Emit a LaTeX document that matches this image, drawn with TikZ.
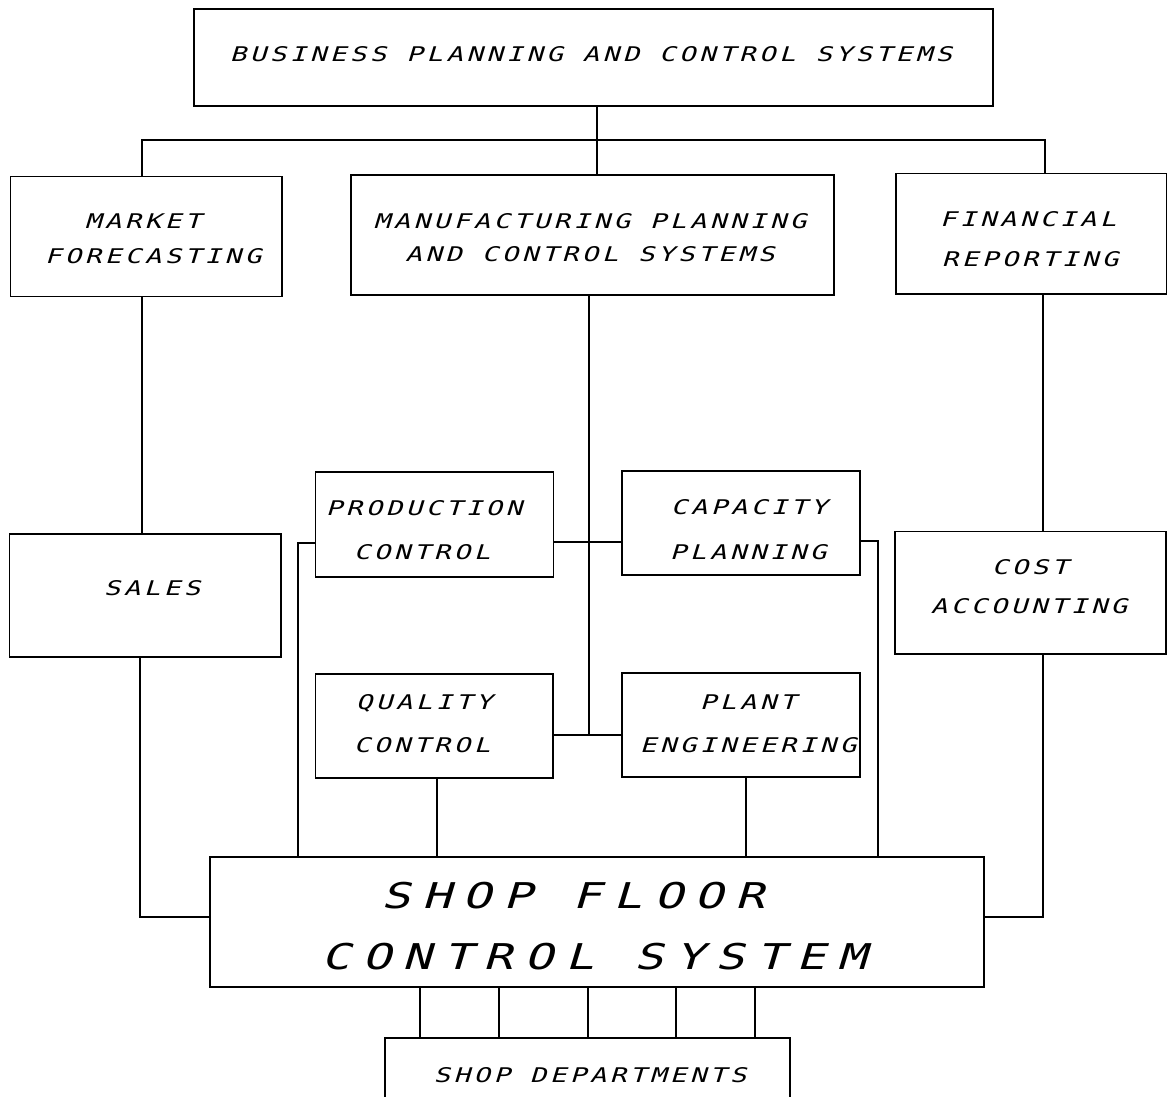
\documentclass[tikz,border=0pt]{standalone}
\usepackage{fontspec}
\usetikzlibrary{fit}
% plotter-style lettering: wide, slanted, evenly spaced capitals
\newfontfamily\plotsmall[FakeStretch=1.35,FakeSlant=0.3,LetterSpace=17.7]{DejaVu Sans Mono}
\newfontfamily\plotlarge[FakeStretch=1.35,FakeSlant=0.3,LetterSpace=33]{DejaVu Sans Mono}
\begin{document}
\begin{tikzpicture}[x=0.02cm,y=-0.02cm,line width=0.8pt,
  box/.style={draw,inner sep=0pt,fit={#1}},
  lbl/.style={anchor=base,inner sep=0pt,font=\plotsmall\fontsize{11.5}{13}\selectfont},
  biglbl/.style={anchor=base,inner sep=0pt,font=\plotlarge\fontsize{20.2}{24}\selectfont}]
\useasboundingbox (0,0) rectangle (1171,1097);
\clip (0,0) rectangle (1171,1097);

% boxes
\node[box={(194,9)(993,106)}] (bus) {};
\node[box={(10.5,176.5)(282,296.5)}] (mf) {};
\node[box={(351,175)(834,295)}] (mpcs) {};
\node[box={(896,173.5)(1166.5,294)}] (fr) {};
\node[box={(9.5,534)(281,657)}] (sales) {};
\node[box={(895,531.5)(1166,654)}] (ca) {};
\node[box={(315.5,472)(553.5,577)}] (pc) {};
\node[box={(622,471)(860,575)}] (cp) {};
\node[box={(315.5,674)(553,778)}] (qc) {};
\node[box={(622,673)(860,777)}] (pe) {};
\node[box={(210,857)(984,987)}] (sfcs) {};
\node[box={(385,1038)(790,1140)}] (sd) {};

% lettering
\node[lbl] (bus-t) at (591,62) {BUSINESS PLANNING AND CONTROL SYSTEMS};
\node[lbl] (mf-a) at (143,229) {MARKET};
\node[lbl] (mf-b) at (153,264) {FORECASTING};
\node[lbl] (mpcs-a) at (590,229) {MANUFACTURING PLANNING};
\node[lbl] (mpcs-b) at (590,262) {AND CONTROL SYSTEMS};
\node[lbl] (fr-a) at (1028,227) {FINANCIAL};
\node[lbl] (fr-b) at (1030,267) {REPORTING};
\node[lbl] (pc-a) at (424,516) {PRODUCTION};
\node[lbl] (pc-b) at (422,560) {CONTROL};
\node[lbl] (cp-a) at (749,515) {CAPACITY};
\node[lbl] (cp-b) at (748,560) {PLANNING};
\node[lbl] (qc-a) at (424,710) {QUALITY};
\node[lbl] (qc-b) at (422,753) {CONTROL};
\node[lbl] (pe-a) at (748,710) {PLANT};
\node[lbl] (pe-b) at (748,753) {ENGINEERING};
\node[lbl] (sales-t) at (152,596) {SALES};
\node[lbl] (ca-a) at (1030,575) {COST};
\node[lbl] (ca-b) at (1029,614) {ACCOUNTING};
\node[biglbl] (sfcs-a) at (573,909) {SHOP FLOOR};
\node[biglbl] (sfcs-b) at (594,970) {CONTROL SYSTEM};
\node[lbl] (sd-t) at (590,1083) {SHOP DEPARTMENTS};

% junction points of the connector runs
\coordinate (tl) at (142,140);
\coordinate (tm) at (597,140);
\coordinate (tr) at (1045,140);
\coordinate (sl) at (140,917);
\coordinate (sr) at (1043,917);
\coordinate (mv) at (589,735);
\coordinate (ml) at (589,542);
\coordinate (pl) at (298,543);
\coordinate (pr) at (878,541);
\coordinate (qx) at (437,0);
\coordinate (px) at (746,0);

% top tier
\draw (tm |- bus.south) -- (tm);
\draw (tl |- mf.north) -- (tl) -- (tr) -- (tr |- fr.north);
\draw (tm) -- (tm |- mpcs.north);

% left and right columns
\draw (mf.south -| tl) -- (sales.north -| tl);
\draw (sales.south -| sl) -- (sl) -- (sl -| sfcs.west);
\draw (fr.south -| sr) -- (ca.north -| sr);
\draw (ca.south -| sr) -- (sr) -- (sr -| sfcs.east);

% centre group
\draw (mpcs.south -| mv) -- (mv);
\draw (ml -| pc.east) -- (ml -| cp.west);
\draw (mv -| qc.east) -- (mv -| pe.west);
\draw (pl -| pc.west) -- (pl) -- (pl |- sfcs.north);
\draw (pr -| cp.east) -- (pr) -- (pr |- sfcs.north);
\draw (qx |- qc.south) -- (qx |- sfcs.north);
\draw (px |- pe.south) -- (px |- sfcs.north);

% shop floor to departments
\foreach \x in {420,499,588,676,755}
  \draw (\x,0 |- sfcs.south) -- (\x,0 |- sd.north);
\end{tikzpicture}
\end{document}
